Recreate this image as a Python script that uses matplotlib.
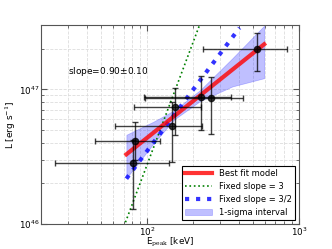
import matplotlib
matplotlib.use("Agg")
import matplotlib.pyplot as plt

plt.rcParams['mathtext.fontset'] = 'custom'
plt.rcParams['mathtext.rm'] = 'DejaVu Serif'

# data points: E_peak [keV] and L [erg/s] with asymmetric error ranges
e_peak = [528, 225, 263, 152, 146, 83.4, 80.9]
e_lo = [233, 95, 97, 81.6, 61, 45.2, 24.6]
e_hi = [830, 357, 431, 225, 230, 122, 139]
lum = [1.98e47, 8.7e46, 8.6e46, 7.43e46, 5.37e46, 4.13e46, 2.82e46]
lum_lo = [1.36e47, 5.0e46, 4.66e46, 4.6e46, 2.9e46, 3.0e46, 1.3e46]
lum_hi = [2.61e47, 1.26e47, 1.24e47, 1.02e47, 8.0e46, 5.76e46, 4.2e46]

# best fit line and 1-sigma band
fit_e = [73, 590]
fit_l = [3.29e46, 2.16e47]
band_e = [73, 110, 150, 224, 364, 590]
band_lo = [2.19e46, 3.95e46, 5.95e46, 8.2e46, 1.05e47, 1.21e47]
band_hi = [4.6e46, 5.75e46, 6.96e46, 9.9e46, 1.70e47, 2.97e47]

# fixed slope lines
s3_e = [72, 220]
s3_l = [1.03e46, 2.94e47]
s32_e = [73, 406]
s32_l = [2.17e46, 2.86e47]

fig = plt.figure(figsize=(3.32, 2.49), dpi=100)
ax = fig.add_axes([0.1235, 0.1004, 0.777, 0.799])
ax.set_xscale('log')
ax.set_yscale('log')

h_band = ax.fill_between(band_e, band_lo, band_hi, color='blue', alpha=0.25, lw=0.5,
                         label='1-sigma interval', zorder=2)
h_fit, = ax.plot(fit_e, fit_l, color='red', lw=3, alpha=0.8, label='Best fit model', zorder=4)
h_s3, = ax.plot(s3_e, s3_l, color='green', ls=':', lw=1.2, label='Fixed slope = 3', zorder=3)
h_s32, = ax.plot(s32_e, s32_l, color='blue', ls=':', lw=3, alpha=0.8,
                 label='Fixed slope = 3/2', zorder=3)

xerr = [[e - lo for e, lo in zip(e_peak, e_lo)], [hi - e for e, hi in zip(e_peak, e_hi)]]
yerr = [[l - lo for l, lo in zip(lum, lum_lo)], [hi - l for l, hi in zip(lum, lum_hi)]]
ax.errorbar(e_peak, lum, xerr=xerr, yerr=yerr, fmt='o', color='black', ms=4.5,
            ecolor='black', elinewidth=1, capsize=2.5, alpha=0.75, zorder=5)

ax.text(0.106, 0.769, r'slope=0.90$\pm$0.10', transform=ax.transAxes,
        fontsize=6.5, va='center', ha='left')

ax.set_xlim(20, 1000)
ax.set_ylim(1e46, 3e47)
ax.grid(True, which='both', ls='--', color='#dddddd', lw=0.6)
ax.set_axisbelow(True)
ax.tick_params(which='both', direction='in', top=True, right=True, labelsize=6.3,
               color='#555555', pad=1)
ax.tick_params(which='major', length=4)
ax.tick_params(which='minor', length=2)
for sp in ax.spines.values():
    sp.set_color('#555555')

ax.set_xlabel(r'E$_{\rm peak}$ [keV]', fontsize=6.3)
ax.xaxis.set_label_coords(0.5, -0.062)
ax.set_ylabel(r'L [erg s$^{-1}$]', fontsize=6.5, labelpad=0.5)

leg = ax.legend([h_fit, h_s3, h_s32, h_band],
                ['Best fit model', 'Fixed slope = 3', 'Fixed slope = 3/2', '1-sigma interval'],
                loc='lower right', fontsize=6, fancybox=False, framealpha=1,
                edgecolor='black', handlelength=3.2, borderpad=0.4,
                labelspacing=0.45)
leg.get_frame().set_linewidth(0.8)

fig.savefig('out.png', dpi=100)
